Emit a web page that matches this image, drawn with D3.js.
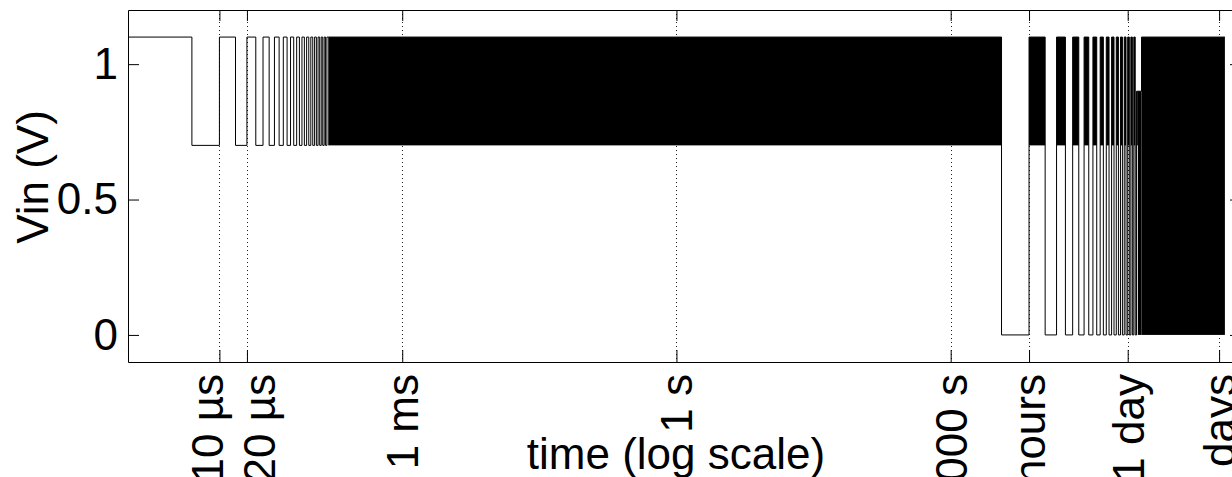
<!DOCTYPE html>
<html>
<head>
<meta charset="utf-8">
<script src="https://cdn.jsdelivr.net/npm/d3@7"></script>
<style>
  body { margin: 0; background: #fff; }
  svg { display: block; font-family: "Liberation Sans", Arial, sans-serif; }
</style>
</head>
<body>
<div class="chart"></div>
<script>
// time in seconds, voltage in volts
const timeDomain = [1e-6, 1.5e6];
const vinDomain = [-0.1, 1.2];
const stressLevels = [1.1, 0.7];          // fast toggle: high, low
const recoveryLevel = 0;                  // level during recovery hours
const halfPeriods = [5e-6, 3600];         // fast toggle, hourly stress / recovery switch
const phaseTimes = [0, 3600, 1e6];        // fast phase up to 1 h, then hourly phase up to 1e6 s
const reducedWindow = [29 * 3600, 34 * 3600];
const reducedHigh = 0.9;                  // stress high inside that window

const xTickValues = [1e-5, 2e-5, 1e-3, 1, 1e3, 7200, 86400, 864000];
const xTickLabels = ['10 µs', '20 µs', '1 ms', '1 s', '1000 s', '2 hours', '1 day', '10 days'];
const yTickValues = [0, 0.5, 1];
const yTickLabels = ['0', '0.5', '1'];

const W = 1232, H = 477;
const margin = { top: 10, left: 128 };
const plotW = 1113, plotH = 352;
const fontSize = 44;
const minPx = 1.3; // narrower edges than this render as a solid band

const svg = d3.select('.chart')
  .append('svg')
  .attr('width', W)
  .attr('height', H);

const g = svg.append('g')
  .attr('transform', `translate(${margin.left}, ${margin.top})`);

const x = d3.scaleLog().domain(timeDomain).range([0, plotW]);
const y = d3.scaleLinear().domain(vinDomain).range([plotH, 0]);
const xt = t => x(Math.max(t, timeDomain[0]));

// ---- build waveform segments ----
const segs = [];

// phase 1: 1.1 / 0.7 toggling, stop listing edges once they get too dense
let t = phaseTimes[0], k = 0;
while (t < phaseTimes[1]) {
  const t1 = Math.min(t + halfPeriods[0], phaseTimes[1]);
  if (xt(t1) - xt(t) < minPx) {
    segs.push({ t0: t, t1: phaseTimes[1], lo: stressLevels[1], hi: stressLevels[0], band: true });
    break;
  }
  const v = stressLevels[k % 2];
  segs.push({ t0: t, t1, lo: v, hi: v, band: false });
  t = t1; k++;
}

// phase 2: recovery hour / stress hour (stress hour is itself the fast toggle)
const slow = [];
for (let h = 0; phaseTimes[1] + h * halfPeriods[1] < phaseTimes[2]; h++) {
  const t0 = phaseTimes[1] + h * halfPeriods[1];
  const t1 = Math.min(t0 + halfPeriods[1], phaseTimes[2]);
  const key = (t0 >= reducedWindow[0] && t0 < reducedWindow[1]) ? reducedHigh : stressLevels[0];
  if (h % 2 === 0) slow.push({ t0, t1, lo: recoveryLevel, hi: recoveryLevel, band: false, key });
  else slow.push({ t0, t1, lo: stressLevels[1], hi: key, band: true, key });
}

// merge pulses that are too thin to resolve
let group = null;
slow.forEach(s => {
  if (xt(s.t1) - xt(s.t0) < minPx) {
    if (group && group.key === s.key) {
      group.t1 = s.t1;
      group.lo = Math.min(group.lo, s.lo);
      group.hi = Math.max(group.hi, s.hi);
    } else {
      group = Object.assign({}, s, { band: true });
      segs.push(group);
    }
  } else {
    group = null;
    segs.push(s);
  }
});

// ---- grid ----
g.append('g')
  .selectAll('line')
  .data(xTickValues)
  .join('line')
  .attr('x1', d => Math.round(x(d)) + 0.5)
  .attr('x2', d => Math.round(x(d)) + 0.5)
  .attr('y1', 0)
  .attr('y2', plotH)
  .attr('stroke', '#222')
  .attr('stroke-dasharray', '1,3');

// ---- waveform ----
g.append('g')
  .selectAll('rect')
  .data(segs.filter(d => d.band))
  .join('rect')
  .attr('x', d => xt(d.t0))
  .attr('width', d => xt(d.t1) - xt(d.t0))
  .attr('y', d => y(d.hi))
  .attr('height', d => y(d.lo) - y(d.hi))
  .attr('fill', '#000');

const pts = [];
segs.forEach(d => {
  pts.push([d.t0, d.hi]);
  pts.push([d.t1, d.hi]);
});

const line = d3.line()
  .x(d => xt(d[0]))
  .y(d => y(d[1]));

g.append('path')
  .datum(pts)
  .attr('d', line)
  .attr('fill', 'none')
  .attr('stroke', '#000')
  .attr('stroke-width', 1);

// ---- axes ----
const styleAxis = sel => sel
  .attr('font-size', fontSize)
  .attr('font-family', '"Liberation Sans", Arial, sans-serif')
  .attr('color', '#000');

const xAxis = g.append('g')
  .attr('transform', `translate(0, ${plotH})`)
  .call(d3.axisBottom(x).tickValues(xTickValues)
    .tickFormat((d, i) => xTickLabels[i])
    .tickSizeInner(-12).tickSizeOuter(0))
  .call(styleAxis);

const nudge = [-12, 12, 0, 0, 0, 0, 0, 0];
xAxis.selectAll('.tick text')
  .attr('text-anchor', 'end')
  .attr('x', -12)
  .attr('y', 0)
  .attr('dy', '0.35em')
  .attr('transform', (d, i) => `translate(${nudge[i]}, 0) rotate(-90)`);

g.append('g')
  .call(d3.axisTop(x).tickValues(xTickValues).tickFormat('')
    .tickSizeInner(-11).tickSizeOuter(0))
  .call(styleAxis);

g.append('g')
  .call(d3.axisLeft(y).tickValues(yTickValues)
    .tickFormat((d, i) => yTickLabels[i])
    .tickSizeInner(-11).tickSizeOuter(0).tickPadding(10))
  .call(styleAxis);

g.append('g')
  .attr('transform', `translate(${plotW}, 0)`)
  .call(d3.axisRight(y).tickValues(yTickValues).tickFormat('')
    .tickSizeInner(-11).tickSizeOuter(0))
  .call(styleAxis);

// ---- axis titles ----
svg.append('text')
  .attr('x', 676)
  .attr('y', 469)
  .attr('text-anchor', 'middle')
  .attr('font-size', fontSize)
  .text('time (log scale)');

svg.append('text')
  .attr('transform', 'translate(48, 177) rotate(-90)')
  .attr('text-anchor', 'middle')
  .attr('font-size', fontSize)
  .text('Vin (V)');
</script>
</body>
</html>
